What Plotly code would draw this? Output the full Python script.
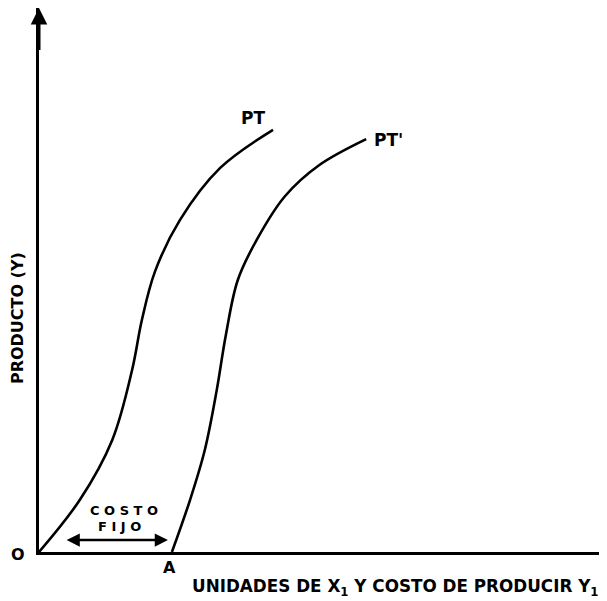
import plotly.graph_objects as go

# Curve PT (product, no fixed cost)
pt_x = [0.0, 7.2, 12.9, 16.4, 18.1, 20.4, 24.8, 31.9, 41.2]
pt_y = [0.0, 9.6, 20.6, 33.5, 42.6, 51.5, 61.0, 70.6, 77.6]

# Curve PT' (shifted by fixed cost)
ptp_x = [23.4, 26.6, 29.2, 31.3, 32.9, 35.0, 38.5, 43.3, 49.3, 57.6]
ptp_y = [0.0, 9.6, 18.8, 29.8, 39.9, 50.0, 57.7, 65.4, 71.1, 75.9]

curve_labels = ["PT", "PT'"]
x_title = "UNIDADES DE X<sub>1</sub> Y COSTO DE PRODUCIR Y<sub>1</sub>"
y_title = "PRODUCTO (Y)"
fixed_cost_label = ["C O S T O", "F I J O"]
fixed_cost_start = 4.6
fixed_cost_end = 22.7

FONT = "DejaVu Sans"

fig = go.Figure()
for xs, ys in ((pt_x, pt_y), (ptp_x, ptp_y)):
    fig.add_trace(go.Scatter(x=xs, y=ys, mode="lines",
                             line=dict(color="black", width=2.6, shape="spline", smoothing=1.0),
                             hoverinfo="skip", showlegend=False))

ann = []
# y axis arrow head
ann.append(dict(x=0, y=100, ax=0, ay=92, xref="x", yref="y", axref="x", ayref="y",
                showarrow=True, arrowhead=2, arrowsize=1.1, arrowwidth=3, arrowcolor="black", text=""))
# fixed cost double arrow
ann.append(dict(x=fixed_cost_end, y=2.2, ax=fixed_cost_start, ay=2.2, xref="x", yref="y",
                axref="x", ayref="y", showarrow=True, arrowhead=2, startarrowhead=2,
                arrowside="end+start", arrowsize=1.1, arrowwidth=2.4, arrowcolor="black", text=""))
txtfont = dict(family=FONT, size=17, color="black")
ann.append(dict(x=pt_x[-1] - 3.6, y=pt_y[-1] + 2.2, text="<b>" + curve_labels[0] + "</b>",
                showarrow=False, font=txtfont, xref="x", yref="y"))
ann.append(dict(x=ptp_x[-1] + 4.0, y=ptp_y[-1] - 0.2, text="<b>" + curve_labels[1] + "</b>",
                showarrow=False, font=txtfont, xref="x", yref="y"))
small = dict(family=FONT, size=13, color="black")
ann.append(dict(x=15.0, y=7.7, text="<b>" + fixed_cost_label[0] + "</b>", showarrow=False, font=small,
                xref="x", yref="y"))
ann.append(dict(x=14.1, y=4.6, text="<b>" + fixed_cost_label[1] + "</b>", showarrow=False, font=small,
                xref="x", yref="y"))
ann.append(dict(x=-0.037, y=-0.0055, xref="paper", yref="paper", text="<b>O</b>", showarrow=False,
                font=dict(family=FONT, size=16, color="black"), xanchor="center", yanchor="middle"))
ann.append(dict(x=0.2306, y=-0.0276, xref="paper", yref="paper", text="<b>A</b>", showarrow=False,
                font=dict(family=FONT, size=16, color="black"), xanchor="center", yanchor="middle"))
ann.append(dict(x=0.628, y=-0.066, xref="paper", yref="paper", text="<b>" + x_title + "</b>",
                showarrow=False, font=dict(family=FONT, size=16.8, color="black"), xanchor="center", yanchor="middle"))
ann.append(dict(x=-0.0387, y=0.43, xref="paper", yref="paper", text="<b>" + y_title + "</b>", textangle=-90,
                showarrow=False, font=dict(family=FONT, size=16, color="black"), xanchor="center", yanchor="middle"))

fig.update_layout(
    width=599, height=593, autosize=False,
    margin=dict(l=31, r=0, t=0, b=49),
    paper_bgcolor="white", plot_bgcolor="white",
    annotations=ann,
    xaxis=dict(range=[0, 100], showgrid=False, zeroline=False, showticklabels=False, ticks="",
               showline=True, linecolor="black", linewidth=2.6, fixedrange=True),
    yaxis=dict(range=[0, 100], showgrid=False, zeroline=False, showticklabels=False, ticks="",
               showline=True, linecolor="black", linewidth=3, fixedrange=True),
)
fig.write_html("out.html")
